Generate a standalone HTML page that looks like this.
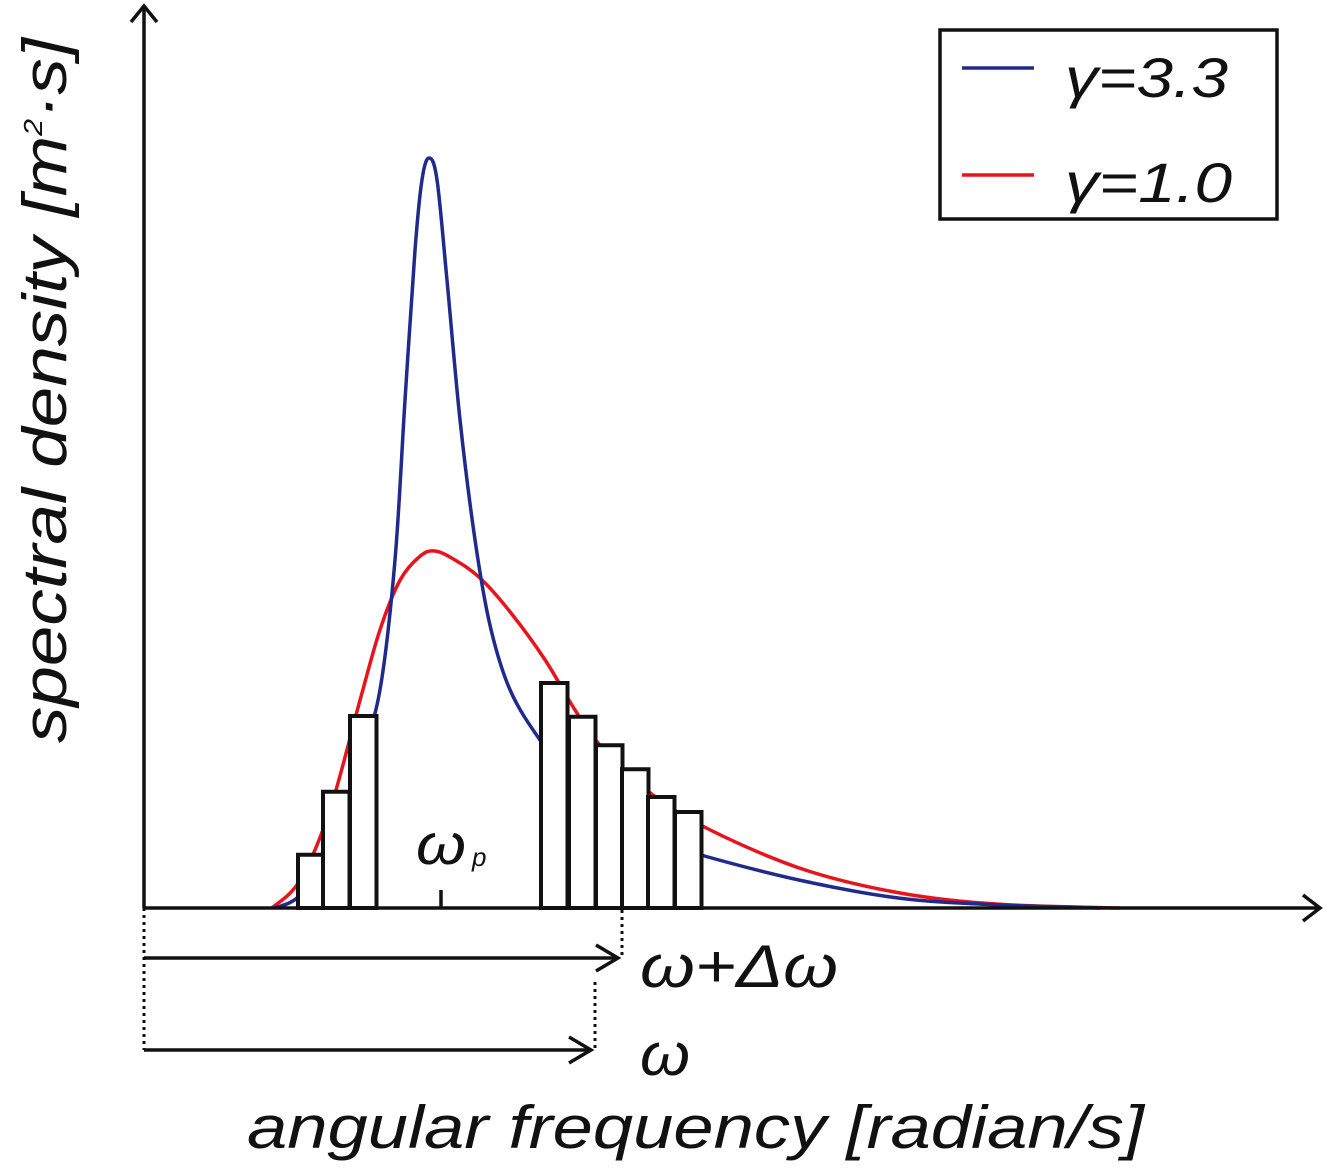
<!DOCTYPE html>
<html><head><meta charset="utf-8"><style>
html,body{margin:0;padding:0;background:#fff}
svg text{font-family:"Liberation Sans",sans-serif;font-style:italic;fill:#111}
</style></head><body>
<svg width="1325" height="1165" viewBox="0 0 1325 1165" xmlns="http://www.w3.org/2000/svg">
<g id="plot"></g>
<line x1="144" y1="908" x2="144" y2="8" stroke="#111" stroke-width="3.5"/>
<polyline points="131,22 144,6 157,22" fill="none" stroke="#111" stroke-width="3.5"/>
<line x1="144" y1="908" x2="1318" y2="908" stroke="#111" stroke-width="3.5"/>
<polyline points="1303,895 1320,908 1303,921" fill="none" stroke="#111" stroke-width="3.5"/>
<line x1="441" y1="890" x2="441" y2="908" stroke="#111" stroke-width="3.5"/>
<text x="416" y="864" font-size="58" textLength="50" lengthAdjust="spacingAndGlyphs">ω</text>
<text x="472" y="866" font-size="26">p</text>
<line x1="144" y1="908" x2="144" y2="1050" stroke="#111" stroke-width="3" stroke-dasharray="3,4"/>
<line x1="622" y1="910" x2="622" y2="958" stroke="#111" stroke-width="3" stroke-dasharray="3,4"/>
<line x1="595" y1="982" x2="595" y2="1050" stroke="#111" stroke-width="3" stroke-dasharray="3,4"/>
<line x1="144" y1="958" x2="618" y2="958" stroke="#111" stroke-width="3.5"/>
<polyline points="596,945 618,958 596,971" fill="none" stroke="#111" stroke-width="3.5"/>
<line x1="144" y1="1050" x2="591" y2="1050" stroke="#111" stroke-width="3.5"/>
<polyline points="569,1037 591,1050 569,1063" fill="none" stroke="#111" stroke-width="3.5"/>
<text x="640" y="987" font-size="60" textLength="198" lengthAdjust="spacingAndGlyphs">ω+Δω</text>
<text x="640" y="1075" font-size="60" textLength="50" lengthAdjust="spacingAndGlyphs">ω</text>
<text x="247" y="1148" font-size="60" textLength="897" lengthAdjust="spacingAndGlyphs">angular frequency [radian/s]</text>
<text transform="translate(66,743) rotate(-90)" font-size="62" textLength="705" lengthAdjust="spacingAndGlyphs">spectral density [m<tspan font-size="26" dy="-24">2</tspan><tspan dy="24">·s]</tspan></text>
<rect x="940" y="30" width="337" height="189" fill="#fff" stroke="#111" stroke-width="3.5"/>
<line x1="962" y1="68" x2="1034" y2="68" stroke="#1f2a8c" stroke-width="3.5"/>
<text x="1065" y="97" font-size="56" textLength="163" lengthAdjust="spacingAndGlyphs">γ=3.3</text>
<line x1="962" y1="175" x2="1034" y2="175" stroke="#e8141c" stroke-width="3.5"/>
<text x="1065" y="202" font-size="56" textLength="167" lengthAdjust="spacingAndGlyphs">γ=1.0</text>
</svg>
<script>
const blueX=[13.1,15.6,18.6,21.6,23.6,25.1,26.1,27.1,27.8,28.5,29.3,30.3,31.6,33.1,34.6,36.6,39.6,43.6,49.6,55.6,65.6,75.6,85.6,95.6];
const blueY=[0,1.7,7.7,19.7,29.1,46.4,67.7,87.7,97.1,100,97.1,83.7,65.1,49.1,37.7,29.1,22.4,15.7,9.7,7.1,3.7,1.3,0.4,0];
const redX=[12.8,15.6,18.6,21.6,23.6,25.6,27.6,29.1,31.1,33.6,36.6,40.1,43.1,45.6,49.6,55.6,65.6,75.6,85.6,97.6];
const redY=[0,3.7,13.1,27.7,37.1,43.7,46.9,47.6,46.4,44,39.5,33.1,26.4,21.7,16.4,11.1,5.3,2,0.5,0];
const barStart=[15.4,17.9,20.6,39.7,42.5,45.2,47.8,50.4,53.1];
const barHeight=[7.1,15.5,25.6,30,25.5,21.7,18.5,14.8,12.8];
const barWidth=2.65;
const NS='http://www.w3.org/2000/svg';
function xs(v){return 144+v*10;}
function ys(v){return 908-v*7.5;}
const plot=document.getElementById('plot');
function curve(X,Y,color,name){
  let d='';
  for(let i=0;i<X.length;i++){
    const px=xs(X[i]),py=ys(Y[i]);
    if(i===0){d='M'+px+','+py;}
    else{
      const x0=xs(X[i-1]),y0=ys(Y[i-1]);
      const xm=xs(X[Math.max(0,i-2)]),ym=ys(Y[Math.max(0,i-2)]);
      const xn=xs(X[Math.min(X.length-1,i+1)]),yn=ys(Y[Math.min(X.length-1,i+1)]);
      const c1x=x0+(px-xm)/6,c1y=y0+(py-ym)/6,c2x=px-(xn-x0)/6,c2y=py-(yn-y0)/6;
      d+=' C'+c1x+','+c1y+' '+c2x+','+c2y+' '+px+','+py;
    }
  }
  const p=document.createElementNS(NS,'path');
  p.setAttribute('d',d);p.setAttribute('fill','none');p.setAttribute('stroke',color);p.setAttribute('stroke-width','3.5');
  
  
  plot.appendChild(p);
}
curve(redX,redY,'#e8141c','curve-gamma-1-0');
curve(blueX,blueY,'#1f2a8c','curve-gamma-3-3');
for(let i=0;i<barStart.length;i++){
  const r=document.createElementNS(NS,'rect');
  const x0=xs(barStart[i]),x1=xs(barStart[i]+barWidth);
  r.setAttribute('x',x0);r.setAttribute('y',ys(barHeight[i]));
  r.setAttribute('width',x1-x0);r.setAttribute('height',ys(0)-ys(barHeight[i]));
  r.setAttribute('fill','#fff');r.setAttribute('stroke','#111');r.setAttribute('stroke-width','4');
  
  
  plot.appendChild(r);
}
</script>
</body></html>
